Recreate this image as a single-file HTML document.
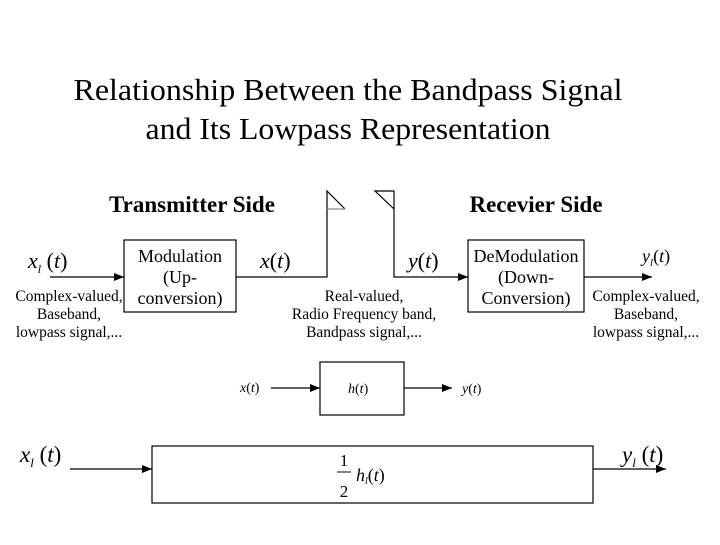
<!DOCTYPE html>
<html><head><style>
body{margin:0;background:#fff;}
svg text{font-family:"Liberation Serif",serif;fill:#000;}
</style></head><body>
<svg width="720" height="540" viewBox="0 0 720 540" xmlns="http://www.w3.org/2000/svg">
<defs><marker id="a" markerWidth="10" markerHeight="8" refX="10" refY="4" orient="auto" markerUnits="userSpaceOnUse"><path d="M0,0 L10,4 L0,8 z" fill="#000"/></marker></defs>
<text x="348" y="100" font-size="31" text-anchor="middle" textLength="549" lengthAdjust="spacingAndGlyphs">Relationship Between the Bandpass Signal</text>
<text x="348" y="139" font-size="31" text-anchor="middle" textLength="405" lengthAdjust="spacingAndGlyphs">and Its Lowpass Representation</text>
<text x="192" y="212" font-size="23" font-weight="bold" text-anchor="middle">Transmitter Side</text>
<text x="536" y="212" font-size="23" font-weight="bold" text-anchor="middle">Recevier Side</text>
<g stroke="#000" stroke-width="1.2" fill="none">
<line x1="50" y1="277" x2="124" y2="277" marker-end="url(#a)"/>
<rect x="124" y="240" width="112" height="72"/>
<polyline points="236,277 327,277 327,191 345,209"/>
<polyline points="440,277 394,277 394,191 375,191 394,209" />
<line x1="440" y1="277" x2="468" y2="277" marker-end="url(#a)"/>
<rect x="468" y="240" width="116" height="72"/>
<line x1="584" y1="277" x2="652" y2="277" marker-end="url(#a)"/>
<line x1="271" y1="388" x2="320" y2="388" marker-end="url(#a)"/>
<rect x="320" y="362" width="84" height="53"/>
<line x1="404" y1="388" x2="452" y2="388" marker-end="url(#a)"/>
<line x1="70" y1="469" x2="152" y2="469" marker-end="url(#a)"/>
<rect x="152" y="446" width="441" height="57"/>
<line x1="593" y1="469" x2="666" y2="469" marker-end="url(#a)"/>
</g>
<line x1="327" y1="209" x2="345" y2="209" stroke="#888" stroke-width="1.2"/>
<g font-size="22" font-style="italic">
<text x="28" y="268">x<tspan font-size="12" dy="5">l</tspan><tspan dy="-5" font-style="normal"> (</tspan>t<tspan font-style="normal">)</tspan></text>
<text x="260" y="268">x<tspan font-style="normal">(</tspan>t<tspan font-style="normal">)</tspan></text>
<text x="408" y="268">y<tspan font-style="normal">(</tspan>t<tspan font-style="normal">)</tspan></text>
<text x="642" y="262" font-size="18">y<tspan font-size="11" dy="4">l</tspan><tspan dy="-4" font-style="normal">(</tspan>t<tspan font-style="normal">)</tspan></text>
<text x="20" y="462" font-size="23">x<tspan font-size="13" dy="5">l</tspan><tspan dy="-5" font-style="normal"> (</tspan>t<tspan font-style="normal">)</tspan></text>
<text x="622" y="462" font-size="23">y<tspan font-size="13" dy="5">l</tspan><tspan dy="-5" font-style="normal"> (</tspan>t<tspan font-style="normal">)</tspan></text>
</g>
<g font-size="18" text-anchor="middle">
<text x="180" y="262">Modulation</text><text x="180" y="283">(Up-</text><text x="180" y="304">conversion)</text>
<text x="526" y="262">DeModulation</text><text x="526" y="283">(Down-</text><text x="526" y="304">Conversion)</text>
</g>
<g font-size="15.5" text-anchor="middle">
<text x="69" y="301">Complex-valued,</text><text x="69" y="319">Baseband,</text><text x="69" y="337">lowpass signal,...</text>
<text x="364" y="301">Real-valued,</text><text x="364" y="319">Radio Frequency band,</text><text x="364" y="337">Bandpass signal,...</text>
<text x="646" y="301">Complex-valued,</text><text x="646" y="319">Baseband,</text><text x="646" y="337">lowpass signal,...</text>
</g>
<g font-size="14" font-style="italic">
<text x="240" y="392">x<tspan font-style="normal">(</tspan>t<tspan font-style="normal">)</tspan></text>
<text x="348" y="393">h<tspan font-style="normal">(</tspan>t<tspan font-style="normal">)</tspan></text>
<text x="462" y="393">y<tspan font-style="normal">(</tspan>t<tspan font-style="normal">)</tspan></text>
</g>
<text x="344" y="466" font-size="17" text-anchor="middle">1</text>
<line x1="337" y1="472" x2="351" y2="472" stroke="#000" stroke-width="1"/>
<text x="344" y="497" font-size="17" text-anchor="middle">2</text>
<text x="356" y="481" font-size="18" font-style="italic">h<tspan font-size="10" dy="3">l</tspan><tspan dy="-3" font-style="normal">(</tspan>t<tspan font-style="normal">)</tspan></text>
</svg>
</body></html>
